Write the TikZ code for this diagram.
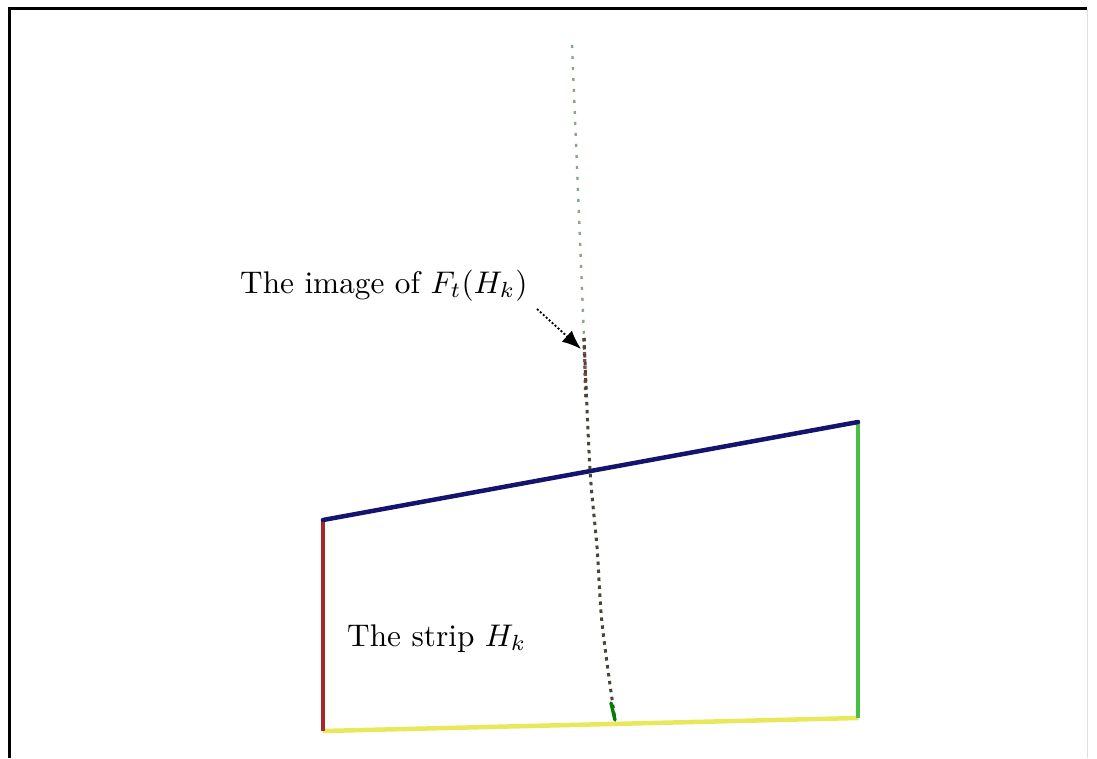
\documentclass[tikz,border=0pt]{standalone}
\usepackage{graphicx}
\usetikzlibrary{arrows.meta}
\definecolor{edgered}{HTML}{A82828}
\definecolor{edgeblue}{HTML}{14146E}
\definecolor{edgegreen}{HTML}{44C044}
\definecolor{edgeyellow}{HTML}{E8E85A}
\definecolor{imggreen}{HTML}{88A888}
\definecolor{imgdark}{HTML}{45453A}
\definecolor{imgred}{HTML}{8A4A42}
\newcommand{\bigtext}[1]{\scalebox{3.13}{#1}}
\begin{document}
\begin{tikzpicture}[x=1pt,y=-1pt,
  frameline/.style={line width=3.6pt,black},
  side/.style={line width=4.5pt},
  lbl/.style={inner sep=0pt,anchor=base west},
  imgupper/.style={line width=2.4pt,imggreen,dash pattern=on 3pt off 8pt},
  imglower/.style={line width=3pt,imgdark,dash pattern=on 3.5pt off 4.5pt},
  pointer/.style={line width=1.8pt,black,dash pattern=on 2pt off 2pt,-{Latex[length=19pt,width=15pt]}}]
\useasboundingbox (0,0) rectangle (1097,758);
% frame
\draw[frameline] (9.5,758) -- (9.5,8.5) -- (1087,8.5);
\draw[line width=0.6pt,gray!25] (1087,8.5) -- (1087,758);
% corners of the strip
\coordinate (A) at (323,731);
\coordinate (B) at (323,520);
\coordinate (C) at (858,422);
\coordinate (D) at (858,718);
\draw[side,edgeyellow] (A) -- (D);
\draw[side,edgered] (A) -- (B);
\draw[side,edgegreen] (D) -- (C);
\draw[side,edgeblue,line cap=round] (B) -- (C);
% image of F_t(H_k)
\coordinate (T) at (572,45);
\coordinate (M) at (584,338);
\coordinate (E) at (615,720);
\draw[imgupper] (T) -- (M);
\draw[line width=3.4pt,imgred,dash pattern=on 3pt off 4pt] (M) -- (586,400);
\draw[imglower] plot[smooth] coordinates {(M) (590,470) (597,547) (602,623) (E)};
\draw[line width=3.4pt,green!50!black,line cap=round] (611,703) -- (E);
% labels
\node[lbl] (imglbl) at (240,293) {\bigtext{The image of $F_t(H_k)$}};
\node[lbl] (striplbl) at (347,646) {\bigtext{The strip $H_k$}};
\coordinate (tail) at (537,309);
\coordinate (tip) at (581,349);
\draw[pointer] (tail) -- (tip);
\end{tikzpicture}
\end{document}
